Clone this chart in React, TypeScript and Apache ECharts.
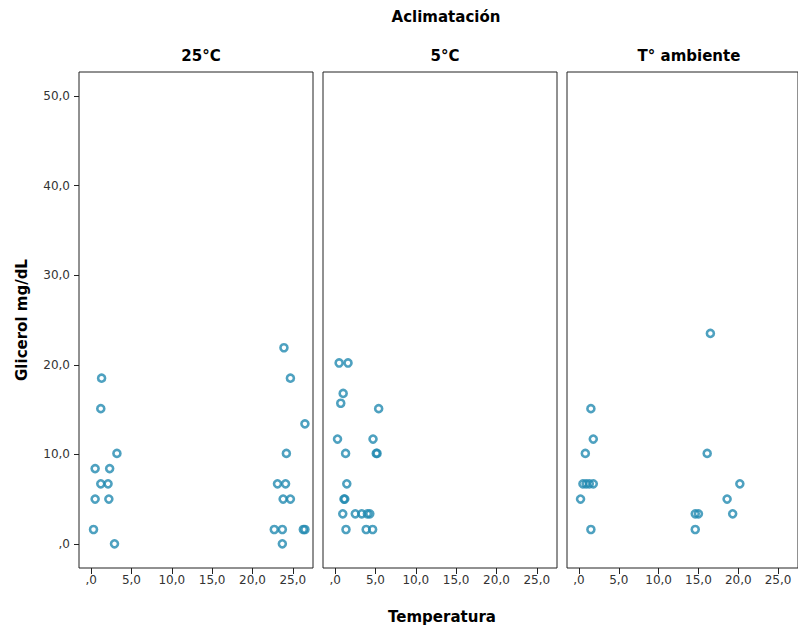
import React, { useEffect, useRef } from "react";
import * as echarts from "echarts";

const panelTitles = ["25°C", "5°C", "T° ambiente"];
const xTicks = [0, 5, 10, 15, 20, 25];
const yTicks = [0, 10, 20, 30, 40, 50];

const p1X = [1.3, 1.2, 3.2, 0.5, 2.3, 1.2, 2.1, 0.5, 2.2, 0.3, 2.9, 23.9, 24.7, 26.5, 24.2, 23.1, 24.1, 23.8, 24.7, 22.7, 23.7, 26.3, 26.5, 23.7];
const p1Y = [18.5, 15.1, 10.1, 8.4, 8.4, 6.7, 6.7, 5.0, 5.0, 1.6, 0.0, 21.9, 18.5, 13.4, 10.1, 6.7, 6.7, 5.0, 5.0, 1.6, 1.6, 1.6, 1.6, 0.0];

const p2X = [0.5, 1.6, 1.0, 0.7, 5.4, 0.3, 4.7, 1.3, 5.2, 5.1, 1.45, 1.1, 1.2, 0.95, 2.5, 3.3, 4.0, 4.3, 1.35, 3.85, 4.65];
const p2Y = [20.2, 20.2, 16.8, 15.7, 15.1, 11.7, 11.7, 10.1, 10.1, 10.1, 6.7, 5.0, 5.0, 3.35, 3.35, 3.35, 3.35, 3.35, 1.6, 1.6, 1.6];

const p3X = [16.5, 1.5, 1.8, 0.8, 16.1, 0.5, 0.9, 1.3, 1.8, 20.2, 0.2, 18.6, 14.6, 15.0, 19.3, 1.5, 14.6];
const p3Y = [23.5, 15.1, 11.7, 10.1, 10.1, 6.7, 6.7, 6.7, 6.7, 6.7, 5.0, 5.0, 3.35, 3.35, 3.35, 1.6, 1.6];

const panelsX = [p1X, p2X, p3X];
const panelsY = [p1Y, p2Y, p3Y];

const fmt = (v: number) => (v === 0 ? ",0" : v.toFixed(1).replace(".", ","));

export default function App() {
  const ref = useRef<HTMLDivElement>(null);
  useEffect(() => {
    if (!ref.current) return;
    const chart = echarts.init(ref.current, null, { renderer: "svg" });
    const lefts = [79, 323, 567];
    const font = "DejaVu Sans, Verdana, sans-serif";
    const grid = lefts.map((l) => ({
      left: l,
      top: 72,
      width: 234,
      height: 496,
      show: true,
      borderColor: "#222",
      borderWidth: 1,
      containLabel: false,
    }));
    const xAxis = lefts.map((_, i) => ({
      type: "value",
      gridIndex: i,
      min: -1.5,
      max: 27.5,
      splitLine: { show: false },
      axisLine: { show: false, onZero: false },
      axisTick: { show: true, customValues: xTicks, length: 6, inside: false, lineStyle: { color: "#222" } },
      axisLabel: { show: true, customValues: xTicks, formatter: fmt, color: "#333", fontSize: 12, fontFamily: font, margin: 6 },
    }));
    const yAxis = lefts.map((_, i) => ({
      type: "value",
      gridIndex: i,
      min: -2.7,
      max: 52.7,
      splitLine: { show: false },
      axisLine: { show: false, onZero: false },
      axisTick: { show: i === 0, customValues: yTicks, length: 5, lineStyle: { color: "#222" } },
      axisLabel: { show: i === 0, customValues: yTicks, formatter: fmt, color: "#333", fontSize: 12, fontFamily: font, margin: 9 },
    }));
    const series = panelsX.map((xs, i) => ({
      type: "scatter",
      xAxisIndex: i,
      yAxisIndex: i,
      symbol: "circle",
      symbolSize: 7,
      itemStyle: { color: "rgba(0,0,0,0)", borderColor: "#2289b0", borderWidth: 2.6 },
      data: xs.map((x, j) => [x, panelsY[i][j]]),
    }));
    const titleStyle = { fontSize: 15, fontWeight: "bold", color: "#000", fontFamily: font };
    chart.setOption({
      animation: false,
      backgroundColor: "#fff",
      grid,
      xAxis,
      yAxis,
      series,
      title: [
        { text: "Aclimatación", left: 441, top: 4, textAlign: "center", textStyle: titleStyle },
        ...panelTitles.map((t, i) => ({ text: t, left: lefts[i] + 117, top: 43, textAlign: "center", textStyle: titleStyle })),
      ],
      graphic: [
        { type: "text", x: 442, y: 617, style: { text: "Temperatura", font: `bold 15px ${font}`, fill: "#000", align: "center", verticalAlign: "middle" } },
        { type: "text", x: 22, y: 320, rotation: Math.PI / 2, style: { text: "Glicerol mg/dL", font: `bold 15px ${font}`, fill: "#000", align: "center", verticalAlign: "middle" } },
      ],
    });
    return () => chart.dispose();
  }, []);
  return <div ref={ref} style={{ position: "fixed", left: 0, top: 0, width: 798, height: 630 }} />;
}
